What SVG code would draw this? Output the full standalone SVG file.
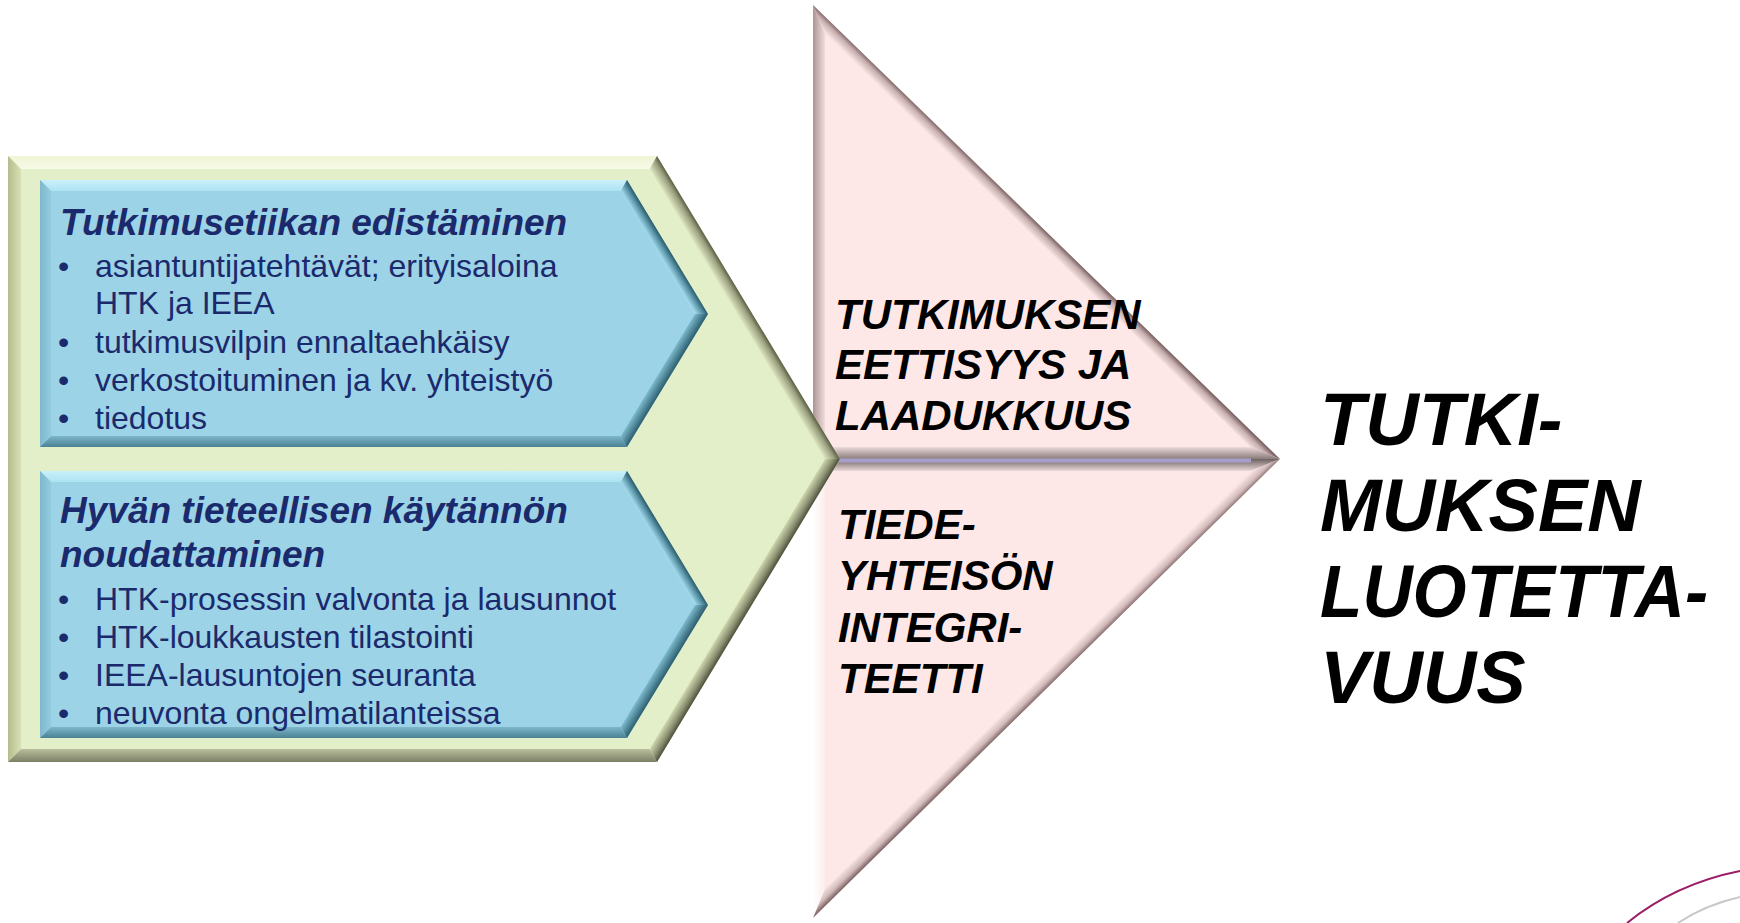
<svg xmlns="http://www.w3.org/2000/svg" width="1740" height="923" viewBox="0 0 1740 923">
<style>
.hd{font-family:"Liberation Sans",Arial,sans-serif;font-weight:bold;font-style:italic;font-size:37px;fill:#1a2a6c}
.bl{font-family:"Liberation Sans",Arial,sans-serif;font-size:32px;fill:#1a2a6c}
.pk{font-family:"Liberation Sans",Arial,sans-serif;font-weight:bold;font-style:italic;font-size:42px;fill:#000}
.big{font-family:"Liberation Sans",Arial,sans-serif;font-weight:bold;font-style:italic;font-size:74px;fill:#000}
</style>
<defs>
<linearGradient id="gTop" x1="0" y1="156" x2="0" y2="169" gradientUnits="userSpaceOnUse"><stop offset="0" stop-color="#eef4d4"/><stop offset="1" stop-color="#f7fbe8"/></linearGradient>
<linearGradient id="gLeft" x1="8" y1="0" x2="21" y2="0" gradientUnits="userSpaceOnUse"><stop offset="0" stop-color="#b4bd8c"/><stop offset="1" stop-color="#d8e0b6"/></linearGradient>
<linearGradient id="gBot" x1="0" y1="762" x2="0" y2="749" gradientUnits="userSpaceOnUse"><stop offset="0" stop-color="#7c8066"/><stop offset="1" stop-color="#b9be9c"/></linearGradient>
<linearGradient id="gUR" x1="748.5" y1="307.5" x2="737.4" y2="314.2" gradientUnits="userSpaceOnUse"><stop offset="0" stop-color="#5a5e43"/><stop offset="0.35" stop-color="#9ba080"/><stop offset="1" stop-color="#dfe8c1"/></linearGradient>
<linearGradient id="gLR" x1="748.5" y1="610.5" x2="737.4" y2="603.8" gradientUnits="userSpaceOnUse"><stop offset="0" stop-color="#4d503a"/><stop offset="0.4" stop-color="#8a8f72"/><stop offset="1" stop-color="#cfd7ae"/></linearGradient>

<linearGradient id="bTop" x1="0" y1="180" x2="0" y2="191" gradientUnits="userSpaceOnUse"><stop offset="0" stop-color="#c8f0fa"/><stop offset="1" stop-color="#aee3f2"/></linearGradient>
<linearGradient id="bLeft" x1="40" y1="0" x2="51" y2="0" gradientUnits="userSpaceOnUse"><stop offset="0" stop-color="#7fb7cc"/><stop offset="1" stop-color="#93cbdf"/></linearGradient>
<linearGradient id="bBot" x1="0" y1="447" x2="0" y2="436" gradientUnits="userSpaceOnUse"><stop offset="0" stop-color="#4a8294"/><stop offset="1" stop-color="#7fb7ca"/></linearGradient>
<linearGradient id="bUR" x1="667.5" y1="247" x2="658.1" y2="252.7" gradientUnits="userSpaceOnUse"><stop offset="0" stop-color="#2a5a69"/><stop offset="0.4" stop-color="#5994a7"/><stop offset="1" stop-color="#a6ddee"/></linearGradient>
<linearGradient id="bLR" x1="667.5" y1="380.5" x2="658.1" y2="374.8" gradientUnits="userSpaceOnUse"><stop offset="0" stop-color="#2c5e6e"/><stop offset="1" stop-color="#7cb9cc"/></linearGradient>

<linearGradient id="pL1" x1="813" y1="0" x2="825" y2="0" gradientUnits="userSpaceOnUse"><stop offset="0" stop-color="#ad9494"/><stop offset="1" stop-color="#f0dcdc"/></linearGradient>
<linearGradient id="pH1" x1="1046.5" y1="232" x2="1038.1" y2="240.6" gradientUnits="userSpaceOnUse"><stop offset="0" stop-color="#7a6262"/><stop offset="0.4" stop-color="#c7afaf"/><stop offset="1" stop-color="#f8e2e2"/></linearGradient>
<linearGradient id="pB1" x1="0" y1="459" x2="0" y2="447" gradientUnits="userSpaceOnUse"><stop offset="0" stop-color="#8a7b7b"/><stop offset="1" stop-color="#eddada"/></linearGradient>
<linearGradient id="pT2" x1="0" y1="459" x2="0" y2="471" gradientUnits="userSpaceOnUse"><stop offset="0" stop-color="#6e6161"/><stop offset="1" stop-color="#ead8d8"/></linearGradient>
<linearGradient id="pL2" x1="813" y1="0" x2="825" y2="0" gradientUnits="userSpaceOnUse"><stop offset="0" stop-color="#ffffff"/><stop offset="1" stop-color="#fbeded"/></linearGradient>
<linearGradient id="pH2" x1="1046.5" y1="688.5" x2="1038.1" y2="679.9" gradientUnits="userSpaceOnUse"><stop offset="0" stop-color="#866c6c"/><stop offset="0.4" stop-color="#d2baba"/><stop offset="1" stop-color="#f9e3e3"/></linearGradient>

<g id="blueShape">
<polygon points="40,180 627,180 708,314 627,447 40,447" fill="#9dd3e6"/>
<polygon points="40,180 627,180 620.8,191 51,191" fill="url(#bTop)"/>
<polygon points="40,180 51,191 51,436 40,447" fill="url(#bLeft)"/>
<polygon points="40,447 51,436 620.8,436 627,447" fill="url(#bBot)"/>
<polygon points="627,180 708,314 695,314 620.8,191" fill="url(#bUR)"/>
<polygon points="708,314 627,447 620.8,436 695,314" fill="url(#bLR)"/>
</g>
</defs>

<g id="pink-top">
<polygon points="813,5 1280,459 813,459" fill="#fde7e7"/>
<polygon points="813,5 813,459 825,447 825,33.4" fill="url(#pL1)"/>
<polygon points="813,5 1280,459 1250.4,447 825,33.4" fill="url(#pH1)"/>
<polygon points="813,459 1280,459 1250.4,447 825,447" fill="url(#pB1)"/>
</g>
<g id="pink-bottom">
<polygon points="813,459 1280,459 813,918" fill="#fde7e7"/>
<polygon points="813,459 1280,459 1250.6,471 825,471" fill="url(#pT2)"/>
<polygon points="813,459 825,471 825,889.3 813,918" fill="url(#pL2)"/>
<polygon points="1280,459 813,918 825,889.3 1250.6,471" fill="url(#pH2)"/>
</g>
<line x1="838" y1="460.5" x2="1251" y2="460.5" stroke="#a79ec9" stroke-width="4"/>

<g id="green-chevron">
<polygon points="8,156 657,156 840,459 657,762 8,762" fill="#e3efc9"/>
<polygon points="8,156 657,156 649.7,169 21,169" fill="url(#gTop)"/>
<polygon points="8,156 21,169 21,749 8,762" fill="url(#gLeft)"/>
<polygon points="8,762 21,749 649.7,749 657,762" fill="url(#gBot)"/>
<polygon points="657,156 840,459 825,459 649.7,169" fill="url(#gUR)"/>
<polygon points="840,459 657,762 649.7,749 825,459" fill="url(#gLR)"/>
</g>

<g id="box-ethics">
<use href="#blueShape"/>
<text class="hd" x="60" y="235">Tutkimusetiikan edistäminen</text>
<text class="bl" x="58" y="277">•</text><text class="bl" x="95" y="277">asiantuntijatehtävät; erityisaloina</text>
<text class="bl" x="95" y="314">HTK ja IEEA</text>
<text class="bl" x="58" y="353">•</text><text class="bl" x="95" y="353">tutkimusvilpin ennaltaehkäisy</text>
<text class="bl" x="58" y="391">•</text><text class="bl" x="95" y="391">verkostoituminen ja kv. yhteistyö</text>
<text class="bl" x="58" y="429">•</text><text class="bl" x="95" y="429">tiedotus</text>
</g>

<g id="box-practice">
<use href="#blueShape" transform="translate(0,291)"/>
<text class="hd" x="60" y="523">Hyvän tieteellisen käytännön</text>
<text class="hd" x="60" y="567">noudattaminen</text>
<text class="bl" x="58" y="610">•</text><text class="bl" x="95" y="610">HTK-prosessin valvonta ja lausunnot</text>
<text class="bl" x="58" y="648">•</text><text class="bl" x="95" y="648">HTK-loukkausten tilastointi</text>
<text class="bl" x="58" y="686">•</text><text class="bl" x="95" y="686">IEEA-lausuntojen seuranta</text>
<text class="bl" x="58" y="724">•</text><text class="bl" x="95" y="724">neuvonta ongelmatilanteissa</text>
</g>

<g id="label-ethics">
<text class="pk" x="835" y="329">TUTKIMUKSEN</text>
<text class="pk" x="835" y="379">EETTISYYS JA</text>
<text class="pk" x="835" y="430">LAADUKKUUS</text>
</g>
<g id="label-integrity">
<text class="pk" x="838" y="539">TIEDE-</text>
<text class="pk" x="838" y="590">YHTEISÖN</text>
<text class="pk" x="838" y="642">INTEGRI-</text>
<text class="pk" x="838" y="693">TEETTI</text>
</g>
<g id="result">
<text class="big" x="1320" y="445">TUTKI-</text>
<text class="big" x="1320" y="531">MUKSEN</text>
<text class="big" x="1320" y="617" textLength="388" lengthAdjust="spacingAndGlyphs">LUOTETTA-</text>
<text class="big" x="1320" y="703">VUUS</text>
</g>
<g id="decor">
<path d="M1627,923 Q1675,884 1740,871" fill="none" stroke="#9c1c66" stroke-width="2"/>
<path d="M1678,923 Q1705,905 1740,897" fill="none" stroke="#c8c8c8" stroke-width="2"/>
</g>
</svg>
